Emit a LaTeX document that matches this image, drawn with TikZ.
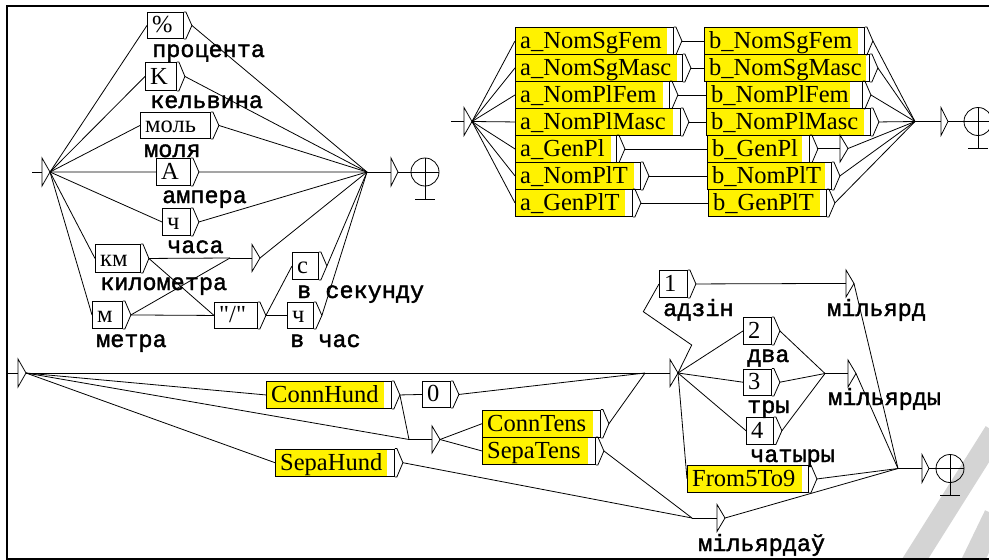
\documentclass[tikz,border=0pt]{standalone}
\usepackage{fontspec}
\setmainfont{Liberation Serif}
\newfontfamily\qfont{Liberation Serif}
\newfontfamily\outfont[FakeBold=1.6]{Liberation Mono}
\usetikzlibrary{calc}
\tikzset{
  edge/.style={draw=black, line width=0.8pt},
  boxborder/.style={draw=black, line width=0.9pt, inner sep=0pt},
  boxlabel/.style={font=\fontsize{24.5}{24.5}\selectfont, inner sep=0pt, anchor=base west},
  outlabel/.style={font=\outfont\fontsize{23.5}{23.5}\selectfont, inner sep=0pt, anchor=base west},
  frameline/.style={line width=2.5pt},
  wmark/.style={draw=black!17, line width=22pt},
}
% box: name, left, top, right, bottom, yellow right, label
\newcommand\UBox[7]{%
  \fill[yellow] (#2,#3) rectangle (#6,#5);
  \node[boxborder, anchor=north west, minimum width={(#4-#2)*1pt}, minimum height={(#5-#3)*1pt}] (#1) at (#2,#3) {};
  \node[boxlabel] (#1-t) at ($(#1.south west)+(5,-6)$) {#7};
  \draw[edge] (#1.north east) -- ++(2,0) -- ($(#1.east)+(8,0)$) coordinate (#1-o) -- ($(#1.south east)+(2,0)$) -- (#1.south east);
}
% epsilon triangle: name, input x, triangle x, y
\newcommand\UTri[4]{%
  \coordinate (#1) at (#2,#4);
  \draw[edge] (#1) -- (#3,#4);
  \draw[edge] (#3,#4-13.5) -- (#3,#4+13.5) -- (#3+8,#4) -- cycle;
  \coordinate (#1-o) at (#3+8,#4);
}
% initial: name, triangle x, y, stub start
\newcommand\UInit[4]{%
  \draw[edge] (#4,#3) -- (#2,#3);
  \draw[edge] (#2,#3-14) -- (#2,#3+14) -- (#2+8,#3) -- cycle;
  \coordinate (#1) at (#2+8,#3);
}
% final: name, converge x, triangle x, circle x, y
\newcommand\UFinal[5]{%
  \coordinate (#1) at (#2,#5);
  \draw[edge] (#1) -- (#3,#5);
  \draw[edge] (#3,#5-14) -- (#3,#5+14) -- (#3+7,#5) -- cycle;
  \draw[edge] (#3+7,#5) -- (#4+14,#5);
  \draw[edge] (#4,#5) circle[radius=14pt];
  \draw[edge] (#4,#5-14) -- (#4,#5+27);
  \draw[edge] (#4-10,#5+27) -- (#4+10,#5+27);
}
\newcommand\E[2]{\draw[edge] (#1) -- (#2);}
\begin{document}
\begin{tikzpicture}[x=1pt,y=-1pt]
\useasboundingbox (0,0) rectangle (989,560);
\fill[white] (0,0) rectangle (989,560);
% watermark
\draw[wmark] (905,575) -- (995,432);
\draw[wmark] (966,575) -- (995,515);
% frame
\draw[frameline] (992,6) -- (7,6) -- (7,559) -- (992,559);

% ---------- top-left graph ----------
\UInit{s1}{42}{172}{32}
\UBox{pct}{147}{12}{183}{38}{147}{\%}
\UBox{kel}{145}{62}{176}{90}{145}{K}
\UBox{mol}{140}{112}{210}{138}{140}{моль}
\UBox{amp}{156}{158}{190}{185}{156}{A}
\UBox{hr}{162}{208}{190}{235}{162}{ч}
\UBox{km}{95}{244}{140}{272}{95}{км}
\UBox{mm}{92}{301}{122}{328}{92}{м}
\UBox{sl}{214}{302}{257}{328}{214}{\qfont"/"}
\UBox{sec}{292}{252}{318}{279}{292}{с}
\UBox{ch}{287}{302}{313}{328}{287}{ч}
\UTri{t1}{230}{252}{258}
\UFinal{f1}{367}{391}{425}{172}
\foreach \b in {pct,kel,mol,amp,hr,km,mm}{\E{s1}{\b.west}}
\foreach \b in {pct,kel,mol,amp,hr,sec,ch,t1}{\E{\b-o}{f1}}
\E{km-o}{t1} \E{km-o}{sl.west}
\E{mm-o}{t1} \E{mm-o}{sl.west}
\E{sl-o}{sec.west} \E{sl-o}{ch.west}
\node[outlabel] (o1) at (152,57) {процента};
\node[outlabel] (o2) at (150,108) {кельвина};
\node[outlabel] (o3) at (144,157) {моля};
\node[outlabel] (o4) at (162,203) {ампера};
\node[outlabel] (o5) at (167,253) {часа};
\node[outlabel] (o6) at (100,290) {километра};
\node[outlabel] (o7) at (96,347) {метра};
\node[outlabel] (o8) at (297,298) {в секунду};
\node[outlabel] (o9) at (290,347) {в час};

% ---------- top-right graph ----------
\UInit{s2}{464}{121.5}{451}
\UBox{aNSF}{515}{27}{673}{54}{667}{a\_NomSgFem}
\UBox{aNSM}{515}{54}{682}{81}{677}{a\_NomSgMasc}
\UBox{aNPF}{515}{81}{669}{108}{663}{a\_NomPlFem}
\UBox{aNPM}{515}{108}{680}{135}{673}{a\_NomPlMasc}
\UBox{aGP}{515}{135}{616}{162}{611}{a\_GenPl}
\UBox{aNPT}{515}{162}{640}{189}{634}{a\_NomPlT}
\UBox{aGPT}{515}{189}{632}{216}{625}{a\_GenPlT}
\UBox{bNSF}{704}{27}{864}{54}{858}{b\_NomSgFem}
\UBox{bNSM}{704}{54}{869}{81}{866}{b\_NomSgMasc}
\UBox{bNPF}{706}{81}{862}{108}{850}{b\_NomPlFem}
\UBox{bNPM}{706}{108}{870}{135}{864}{b\_NomPlMasc}
\UBox{bGP}{707}{135}{809}{162}{802}{b\_GenPl}
\UBox{bNPT}{707}{162}{831}{189}{825}{b\_NomPlT}
\UBox{bGPT}{708}{189}{826}{216}{820}{b\_GenPlT}
\UTri{t2}{817}{840}{148.5}
\UFinal{f2}{915}{941}{978}{121.5}
\foreach \b in {aNSF,aNSM,aNPF,aNPM,aGP,aNPT,aGPT}{\E{s2}{\b.west}}
\E{aNSF-o}{bNSF.west} \E{aNSM-o}{bNSM.west} \E{aNPF-o}{bNPF.west}
\E{aNPM-o}{bNPM.west} \E{aGP-o}{bGP.west} \E{aNPT-o}{bNPT.west}
\E{aGPT-o}{bGPT.west}
\E{bGP-o}{t2}
\foreach \b in {bNSF,bNSM,bNPF,bNPM,t2,bNPT,bGPT}{\E{\b-o}{f2}}

% ---------- bottom graph ----------
\UInit{s3}{18}{373}{8}
\UBox{cH}{266}{381}{391}{408}{384}{ConnHund}
\UBox{zero}{422}{381}{450}{407}{422}{0}
\UBox{cT}{482}{409.5}{600}{437}{593}{ConnTens}
\UBox{sT}{482}{437}{595}{464}{588}{SepaTens}
\UBox{sH}{275}{448.5}{394}{476}{387}{SepaHund}
\UBox{one}{659}{270}{687}{297}{659}{1}
\UBox{two}{743}{317}{771}{344}{743}{2}
\UBox{three}{743}{368.5}{771}{395}{743}{3}
\UBox{four}{746}{417}{773}{443.5}{746}{4}
\UBox{fft}{687}{465}{808}{492}{802}{From5To9}
\UTri{t3}{645}{670}{373}
\UTri{t4}{409}{432}{439.5}
\UTri{t5}{692}{717}{518}
\UTri{t6}{823}{846}{283.5}
\UTri{t7}{825}{848}{373.5}
\UFinal{f3}{898}{922}{950}{468.5}
\E{s3}{t3} \E{s3}{cH.west} \E{s3}{t4} \E{s3}{sH.west}
\E{cH-o}{zero.west} \E{cH-o}{t4}
\E{zero-o}{t3}
\E{t4-o}{cT.west} \E{t4-o}{sT.west}
\E{cT-o}{t3}
\E{sT-o}{t5} \E{sH-o}{t5}
\draw[edge] (t3-o) -- (691.7,345) -- (643.3,311.7) -- (one.west);
\E{t3-o}{two.west} \E{t3-o}{three.west} \E{t3-o}{four.west} \E{t3-o}{fft.west}
\E{one-o}{t6}
\E{two-o}{t7} \E{three-o}{t7} \E{four-o}{t7}
\foreach \b in {t6,t7,fft,t5}{\E{\b-o}{f3}}
\node[outlabel] (p1) at (663,316) {адзін};
\node[outlabel] (p2) at (827,316) {мільярд};
\node[outlabel] (p3) at (747,362) {два};
\node[outlabel] (p4) at (747,413) {тры};
\node[outlabel] (p5) at (750,462) {чатыры};
\node[outlabel] (p6) at (828,405) {мільярды};
\node[outlabel] (p7) at (698,551) {мільярдаў};
\end{tikzpicture}
\end{document}
